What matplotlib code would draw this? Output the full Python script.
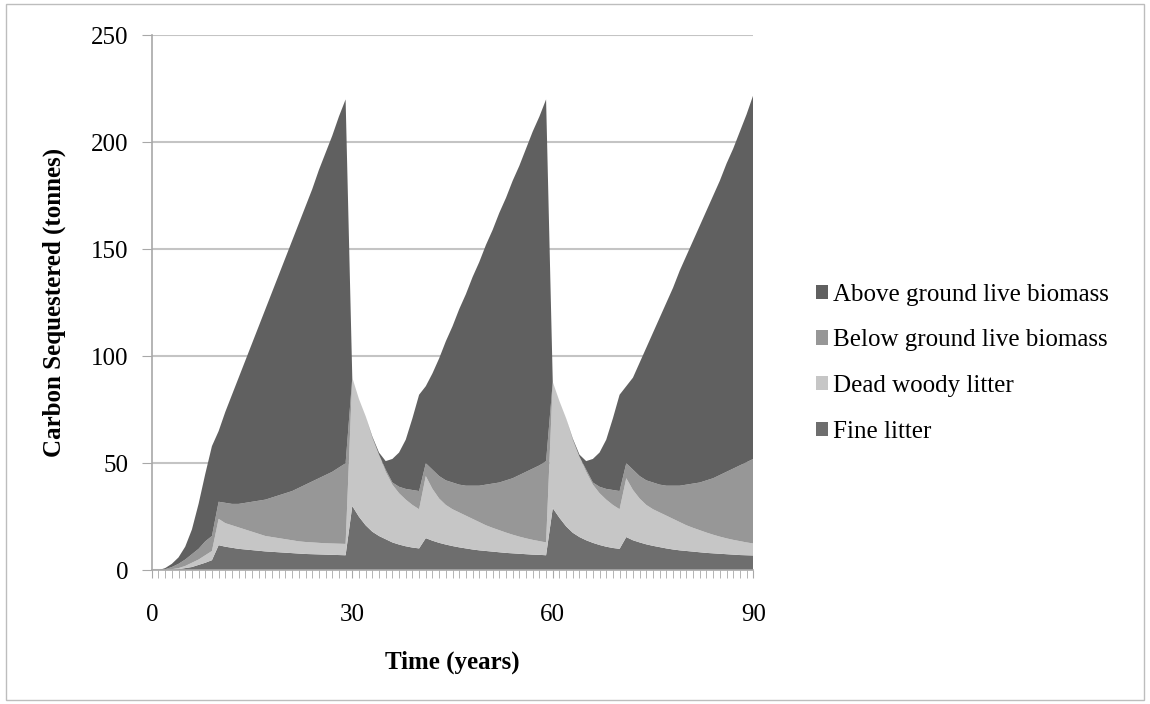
import matplotlib
matplotlib.use("Agg")
from matplotlib import pyplot as plt
from matplotlib.patches import Patch, Rectangle
from matplotlib.ticker import MultipleLocator
import numpy as np

# years 0..90
years = np.arange(0, 91)

# top edge of each stacked band (tonnes)
fine_top = [0, 0, 0, 0.2, 0.5, 1, 1.5, 2.5, 3.5, 4.7,
            11.7, 11, 10.5, 10, 9.7, 9.4, 9.1, 8.8, 8.6, 8.4,
            8.2, 8, 7.8, 7.6, 7.5, 7.4, 7.3, 7.2, 7.1, 7,
            30, 25, 21, 18, 16, 14.5, 13, 12, 11.2, 10.6,
            10.2, 15, 13.8, 12.8, 12, 11.3, 10.7, 10.2, 9.7, 9.3,
            9, 8.7, 8.4, 8.1, 7.9, 7.7, 7.5, 7.3, 7.2, 7,
            29, 24.5, 20.5, 17.5, 15.5, 14, 12.8, 11.8, 11, 10.4,
            10, 15.5, 14, 13, 12.1, 11.4, 10.8, 10.2, 9.7, 9.3,
            9, 8.7, 8.4, 8.1, 7.9, 7.7, 7.5, 7.3, 7.1, 7,
            6.9]
woody_top = [0, 0, 0, 0.5, 1, 2, 3.5, 5, 7, 9,
             24, 22, 21, 20, 19, 18, 17, 16, 15.5, 15,
             14.5, 14, 13.5, 13.2, 13, 12.8, 12.6, 12.5, 12.4, 12.3,
             90, 80, 72, 62, 54, 46, 40, 36, 33, 30.5,
             28.5, 44, 38, 33.5, 30.5, 28.5, 27, 25.5, 24, 22.5,
             21, 19.8, 18.7, 17.6, 16.6, 15.7, 14.9, 14.2, 13.6, 13,
             88, 79, 71, 61, 53, 46, 40, 36, 33, 30.5,
             28.5, 43, 37.5, 33.5, 30.5, 28.5, 27, 25.5, 24, 22.5,
             21, 19.8, 18.7, 17.6, 16.6, 15.7, 14.9, 14.2, 13.6, 13,
             12.5]
below_top = [0, 0, 0.5, 1.5, 3, 5, 7.5, 10, 13.5, 16,
             32, 31.5, 31, 31, 31.5, 32, 32.5, 33, 34, 35,
             36, 37, 38.5, 40, 41.5, 43, 44.5, 46, 48, 50,
             90, 80, 72, 62, 54, 47, 41, 39, 38, 37.5,
             37, 50, 47, 44, 42, 41, 40, 39.5, 39.5, 39.5,
             40, 40.5, 41, 42, 43, 44.5, 46, 47.5, 49, 51,
             88, 79, 71, 61, 53, 47, 41, 39, 38, 37.5,
             37, 50, 47, 44, 42, 41, 40, 39.5, 39.5, 39.5,
             40, 40.5, 41, 42, 43, 44.5, 46, 47.5, 49, 50.5,
             52]
total_top = [0, 0, 1, 3, 6, 11, 19, 31, 45, 58,
             65, 74, 82, 90, 98, 106, 114, 122, 130, 138,
             146, 154, 162, 170, 178, 187, 195, 203, 212, 220,
             90, 80, 72, 62.5, 55, 51, 52, 55, 61, 71,
             82, 86, 92, 99, 107, 114, 122, 129, 137, 144,
             152, 159, 167, 174, 182, 189, 197, 205, 212, 220,
             88, 79, 71, 61.5, 54, 51, 52, 55, 61, 71,
             82, 86, 90, 97, 104, 111, 118, 125, 132, 140,
             147, 154, 161, 168, 175, 182, 190, 197, 205, 213,
             222]

labels = ["Fine litter", "Dead woody litter",
          "Below ground live biomass", "Above ground live biomass"]
colors = ["#6e6e6e", "#c6c6c6", "#979797", "#606060"]

tops = np.array([fine_top, woody_top, below_top, total_top])
layers = np.diff(np.vstack([np.zeros(len(years)), tops]), axis=0)

plt.rcParams['font.family'] = ['Liberation Serif', 'DejaVu Serif']

fig = plt.figure(figsize=(11.5, 7.04), dpi=100)
ax = fig.add_axes([0.132, 0.19, 0.523, 0.76])

ax.stackplot(years, *layers, colors=colors, labels=labels, linewidth=0)

ax.set_xlim(0, 90)
ax.set_ylim(0, 250)
ax.set_yticks(np.arange(0, 251, 50))
ax.xaxis.set_major_locator(MultipleLocator(30))
ax.xaxis.set_minor_locator(MultipleLocator(1))
ax.yaxis.grid(True, color="#c4c4c4", linewidth=1.5)
ax.set_axisbelow(True)

for s in ["top", "right"]:
    ax.spines[s].set_visible(False)
for s in ["left", "bottom"]:
    ax.spines[s].set_color("#a8a8a8")
    ax.spines[s].set_linewidth(1.2)

ax.tick_params(axis="y", direction="out", length=7, color="#a8a8a8",
               labelsize=18, pad=10)
ax.tick_params(axis="x", which="major", direction="out", length=6,
               color="#a8a8a8", labelsize=18, pad=18)
ax.tick_params(axis="x", which="minor", direction="out", length=6,
               color="#a8a8a8")

ax.set_xlabel("Time (years)", fontsize=18, fontweight="bold", labelpad=18)
ax.set_ylabel("Carbon Sequestered (tonnes)", fontsize=18, fontweight="bold",
              labelpad=18)

handles = [Patch(facecolor=c, edgecolor="none") for c in colors]
leg = fig.legend(handles[::-1], labels[::-1], loc="center left",
                 bbox_to_anchor=(0.69, 0.484), frameon=False, fontsize=18,
                 handlelength=0.5, handleheight=0.5, handletextpad=0.2,
                 labelspacing=0.95)

fig.patches.append(Rectangle((0.005, 0.005), 0.99, 0.99, transform=fig.transFigure,
                             fill=False, edgecolor="#bdbdbd", linewidth=1))

fig.savefig("out.png", dpi=100)
